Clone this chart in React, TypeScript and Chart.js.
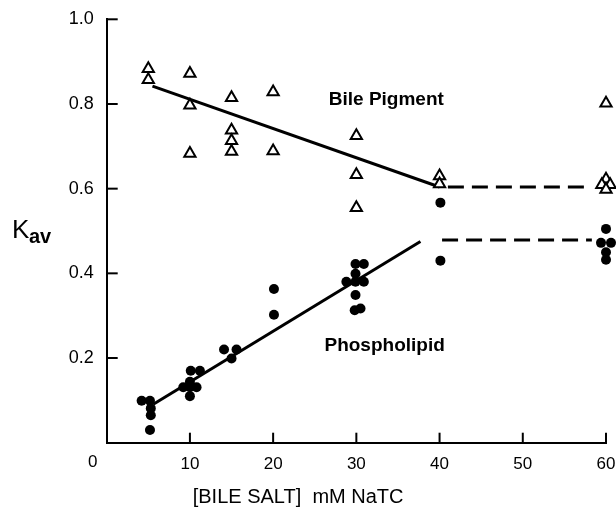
import React, { useEffect, useRef } from "react";
import { Chart, registerables } from "chart.js";

Chart.register(...registerables);

// Bile pigment (open triangles)
const pigmentX = [5, 5, 10, 10, 10, 15, 15, 15, 15, 20, 20, 30, 30, 30, 40, 40, 60, 60, 59.5, 60.5, 60];
const pigmentY = [0.883, 0.857, 0.872, 0.797, 0.683, 0.815, 0.738, 0.713, 0.688, 0.828, 0.689, 0.725, 0.633, 0.555, 0.63, 0.611, 0.802, 0.622, 0.609, 0.609, 0.598];

// Phospholipid (filled circles)
const lipidX = [4.2, 5.2, 5.3, 5.3, 5.2, 9.2, 10, 10.8, 10, 10, 10.1, 11.2, 14.1, 15.6, 15, 20.1, 20.1, 29.9, 30.9, 29.9, 28.8, 29.9, 30.9, 29.9, 29.8, 30.5, 40.1, 40.1, 60, 59.4, 60.6, 60, 60];
const lipidY = [0.099, 0.099, 0.081, 0.065, 0.03, 0.131, 0.131, 0.131, 0.144, 0.11, 0.17, 0.17, 0.22, 0.22, 0.199, 0.363, 0.302, 0.422, 0.422, 0.399, 0.38, 0.38, 0.38, 0.349, 0.313, 0.317, 0.567, 0.43, 0.505, 0.472, 0.472, 0.45, 0.432];

// Fitted lines
const pigmentFitX = [5.5, 40];
const pigmentFitY = [0.842, 0.604];
const pigmentPlateauX = [41, 58];
const pigmentPlateauY = [0.604, 0.604];
const lipidFitX = [5.6, 37.7];
const lipidFitY = [0.091, 0.475];
const lipidPlateauX = [40.3, 58.3];
const lipidPlateauY = [0.479, 0.479];

const xTicks = [0, 10, 20, 30, 40, 50, 60];
const yTicks = [0, 0.2, 0.4, 0.6, 0.8, 1.0];

const zip = (xs: number[], ys: number[]) => xs.map((x, i) => ({ x, y: ys[i] }));

const FONT = "'Liberation Sans', Arial, sans-serif";

const decorPlugin = {
  id: "decor",
  afterDraw(chart: any) {
    const { ctx, scales } = chart;
    const xs = scales.x;
    const ys = scales.y;
    const area = chart.chartArea;
    ctx.save();
    ctx.strokeStyle = "#000";
    ctx.lineWidth = 2;
    xTicks.forEach((v) => {
      if (v === 0) return;
      const px = xs.getPixelForValue(v);
      ctx.beginPath();
      ctx.moveTo(px, area.bottom);
      ctx.lineTo(px, area.bottom - 10);
      ctx.stroke();
    });
    yTicks.forEach((v) => {
      if (v === 0) return;
      const py = ys.getPixelForValue(v);
      ctx.beginPath();
      ctx.moveTo(area.left, py);
      ctx.lineTo(area.left + 11, py);
      ctx.stroke();
    });
    ctx.fillStyle = "#000";
    ctx.font = `17px ${FONT}`;
    ctx.textAlign = "center";
    ctx.textBaseline = "middle";
    ctx.fillText("0", xs.getPixelForValue(0) - 14, area.bottom + 20);
    ctx.font = `bold 19px ${FONT}`;
    ctx.fillText("Bile Pigment", xs.getPixelForValue(33.6), ys.getPixelForValue(0.809));
    ctx.fillText("Phospholipid", xs.getPixelForValue(33.4), ys.getPixelForValue(0.228));
    ctx.font = `20px ${FONT}`;
    ctx.fillText("[BILE SALT]  mM NaTC", xs.getPixelForValue(23), area.bottom + 55);
    ctx.textAlign = "left";
    ctx.textBaseline = "alphabetic";
    ctx.font = `26px ${FONT}`;
    ctx.fillText("K", 12, 238);
    ctx.font = `bold 20px ${FONT}`;
    ctx.fillText("av", 29, 243);
    ctx.restore();
  },
};

export default function App() {
  const ref = useRef<HTMLCanvasElement | null>(null);
  useEffect(() => {
    if (!ref.current) return;
    const prevMargin = document.body.style.margin;
    const prevOverflow = document.documentElement.style.overflow;
    document.body.style.margin = "0";
    document.documentElement.style.overflow = "hidden";
    const chart = new Chart(ref.current, {
      type: "scatter",
      data: {
        datasets: [
          {
            label: "Bile Pigment",
            data: zip(pigmentX, pigmentY),
            pointStyle: "triangle",
            pointRadius: 6.5,
            pointBorderWidth: 2,
            pointBorderColor: "#000",
            pointBackgroundColor: "#fff",
            showLine: false,
            clip: false,
          },
          {
            label: "Phospholipid",
            data: zip(lipidX, lipidY),
            pointStyle: "circle",
            pointRadius: 5,
            pointBorderWidth: 0,
            pointBackgroundColor: "#000",
            showLine: false,
            clip: false,
          },
          {
            label: "pigment fit",
            data: zip(pigmentFitX, pigmentFitY),
            showLine: true,
            borderColor: "#000",
            borderWidth: 3,
            pointRadius: 0,
          },
          {
            label: "pigment plateau",
            data: zip(pigmentPlateauX, pigmentPlateauY),
            showLine: true,
            borderColor: "#000",
            borderWidth: 3,
            borderDash: [16, 8],
            pointRadius: 0,
          },
          {
            label: "lipid fit",
            data: zip(lipidFitX, lipidFitY),
            showLine: true,
            borderColor: "#000",
            borderWidth: 3,
            pointRadius: 0,
          },
          {
            label: "lipid plateau",
            data: zip(lipidPlateauX, lipidPlateauY),
            showLine: true,
            borderColor: "#000",
            borderWidth: 3,
            borderDash: [16, 8],
            pointRadius: 0,
          },
        ],
      },
      options: {
        responsive: false,
        animation: false,
        layout: { padding: { top: 19.3, right: 10, left: 0, bottom: 0 } },
        plugins: { legend: { display: false }, tooltip: { enabled: false } },
        scales: {
          x: {
            type: "linear",
            min: 0,
            max: 60,
            afterFit: (s: any) => {
              s.height = 74.3;
              s.paddingLeft = 0;
              s.paddingRight = 0;
            },
            afterBuildTicks: (s: any) => {
              s.ticks = xTicks.map((v) => ({ value: v }));
            },
            grid: { display: false, drawTicks: false },
            border: { display: true, color: "#000", width: 2 },
            ticks: {
              padding: 11,
              color: "#000",
              font: { family: FONT, size: 17 },
              callback: (v: any) => (v === 0 ? "" : String(v)),
            },
          },
          y: {
            type: "linear",
            min: 0,
            max: 1,
            afterFit: (s: any) => {
              s.width = 106.7;
              s.paddingTop = 0;
              s.paddingBottom = 0;
            },
            afterBuildTicks: (s: any) => {
              s.ticks = yTicks.map((v) => ({ value: v }));
            },
            grid: { display: false, drawTicks: false },
            border: { display: true, color: "#000", width: 2 },
            ticks: {
              padding: 13,
              color: "#000",
              font: { family: FONT, size: 18 },
              callback: (v: any) => (v === 0 ? "" : Number(v).toFixed(1)),
            },
          },
        },
      },
      plugins: [decorPlugin],
    });
    return () => {
      chart.destroy();
      document.body.style.margin = prevMargin;
      document.documentElement.style.overflow = prevOverflow;
    };
  }, []);
  return (
    <div style={{ width: 616, height: 517 }}>
      <canvas ref={ref} width={616} height={517} style={{ display: "block" }} />
    </div>
  );
}
